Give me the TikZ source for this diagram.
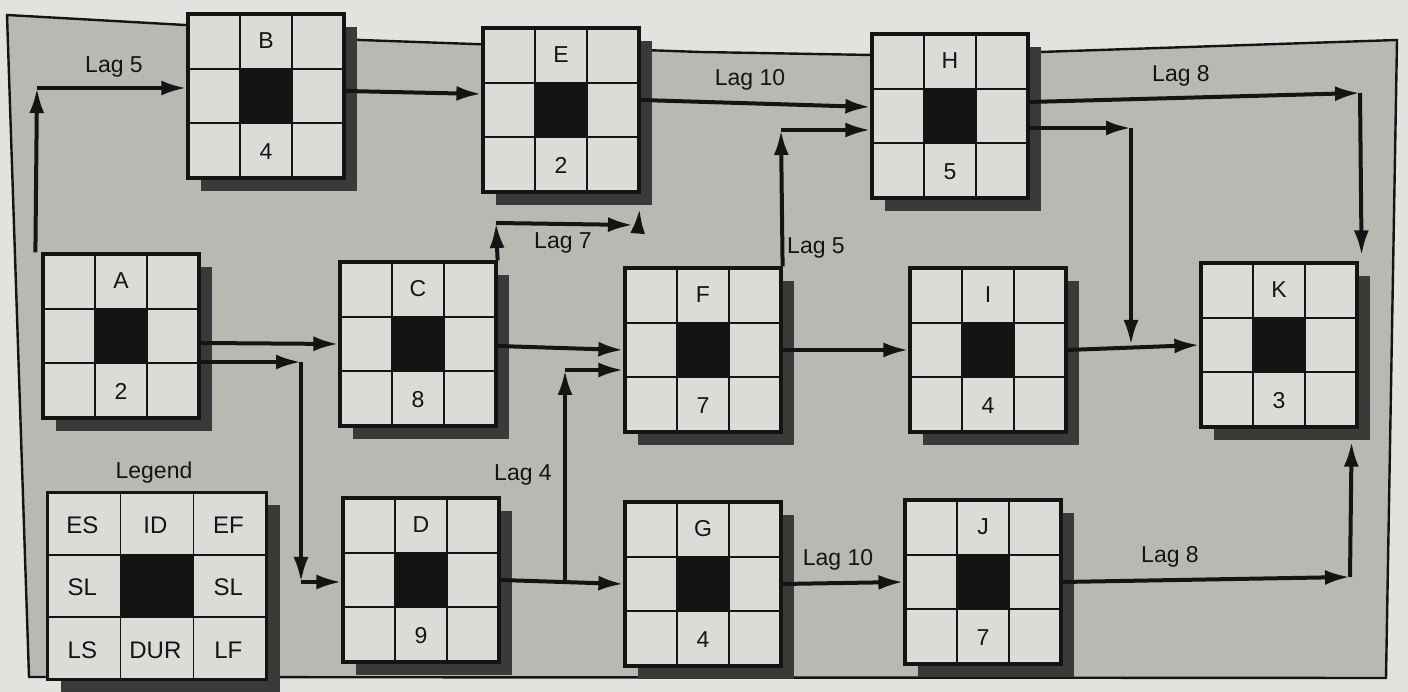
\documentclass[tikz,border=0pt]{standalone}
\usepackage{fontspec}
\setmainfont{Liberation Sans}
\usetikzlibrary{calc,shadows,arrows.meta}

\definecolor{pagewhite}{HTML}{E4E2DE}
\definecolor{framegray}{HTML}{BAB8B3}
\definecolor{cellgray}{HTML}{DDDBD7}
\definecolor{inkblack}{HTML}{141414}
\definecolor{shadowgray}{HTML}{3A3A3A}

\tikzset{
    actbox/.style={
        draw=inkblack, line width=3.2pt, fill=cellgray, inner sep=0pt,
        minimum width=156pt, minimum height=164pt,
        drop shadow={shadow xshift=13pt, shadow yshift=-13pt, fill=shadowgray, opacity=1},
        path picture={
            \fill[inkblack] ($(path picture bounding box.south west)!1/3!(path picture bounding box.north east)$)
                rectangle ($(path picture bounding box.south west)!2/3!(path picture bounding box.north east)$);
            \foreach \f in {1/3,2/3} {
                \draw[inkblack, line width=1.8pt]
                    ($(path picture bounding box.south west)!\f!(path picture bounding box.south east)$) --
                    ($(path picture bounding box.north west)!\f!(path picture bounding box.north east)$);
                \draw[inkblack, line width=1.8pt]
                    ($(path picture bounding box.south west)!\f!(path picture bounding box.north west)$) --
                    ($(path picture bounding box.south east)!\f!(path picture bounding box.north east)$);
            }
        }
    },
    link/.style={->, line width=4pt, draw=inkblack},
    legendtext/.style={font=\fontsize{24}{27}\selectfont}
}

\begin{document}
\begin{tikzpicture}[
            x=1pt, y=1pt,
            font=\fontsize{23}{26}\selectfont,
            text=inkblack,
            >={Latex[length=25pt,width=15pt]}
        ]

    % --- Page and frame ---
    \fill[pagewhite] (0,0) rectangle (1408,692);
    \useasboundingbox (0,0) rectangle (1408,692);
    \draw[line width=2.4pt, draw=inkblack, fill=framegray]
        (7,677) -- (185,667) -- (360,652) -- (700,640) -- (872,637) -- (1040,640)
        -- (1397,652) -- (1386,14) -- (29,15) -- cycle;

    % --- Activities (ID / duration) ---
    \foreach \n/\x/\y/\d in {A/121/356/2, B/266/596/4, C/418/348/8, D/421/112/9,
                             E/561/582/2, F/703/342/7, G/703/108/4, H/950/576/5,
                             I/988/342/4, J/983/110/7, K/1279/347/3} {
        \node[actbox] (\n) at (\x,\y) {};
        \node (\n-id) at ($(\n.north)!1/6!(\n.south)$) {\n};
        \node (\n-dur) at ($(\n.south)!1/6!(\n.north)$) {\d};
    }

    % --- Legend ---
    \node[actbox, minimum width=219pt, minimum height=187pt] (legend) at (157,106) {};
    \node (legendtitle) at (154,219) {Legend};
    \foreach \t/\cx/\cy [count=\i] in {ES/1/5, ID/3/5, EF/5/5, SL/1/3, SL/5/3, LS/1/1, DUR/3/1, LF/5/1}
        \node[legendtext] (leg\i) at ($(legend.south west)+(\cx*36.5,\cy*31.2)$) {\t};

    % --- A -> B, Lag 5 ---
    \coordinate (ab) at (37,604);
    \draw[link] ([xshift=-6pt]A.north west) -- (ab);
    \draw[link] (ab) -- (ab -| B.west);
    \node (lagAB) at (114,625) {Lag 5};

    % --- B -> E ---
    \draw[link] ([yshift=5pt]B.east) -- ([yshift=16pt]E.west);

    % --- E -> H, Lag 10 ---
    \draw[link] ([yshift=10pt]E.east) -- ([yshift=9pt]H.west);
    \node (lagEH) at (750,612) {Lag 10};

    % --- H -> K, Lag 8 ---
    \coordinate (hk1) at (1360,599);
    \draw[link] ([yshift=14pt]H.east) -- (hk1);
    \draw[link] (hk1) -- ([xshift=3pt,yshift=6pt]K.north east);
    \node (lagHK) at (1181,616) {Lag 8};

    % --- H -> K (down onto I -> K) ---
    \coordinate (hk2) at (1131,564);
    \draw[link] ([yshift=-12pt]H.east) -- (hk2);
    \draw[link] (hk2) -- (hk2 |- K.west);

    % --- A -> C, A -> D ---
    \draw[link] ([yshift=-7pt]A.east) -- (C.west);
    \coordinate (ad1) at (301,330);
    \coordinate (ad2) at (301,110);
    \draw[link] ([yshift=-26pt]A.east) -- (ad1);
    \draw[link] (ad1) -- (ad2);
    \draw[link] (ad2) -- (ad2 -| D.west);

    % --- C -> E, Lag 7 ---
    \coordinate (ce1) at (496,469);
    \coordinate (ce2) at (633,467);
    \coordinate (ce3) at (638,463);
    \draw[link] (C.north east) -- (ce1);
    \draw[link] (ce1) -- (ce2);
    \draw[link] (ce3) -- ([xshift=-1pt,yshift=-15pt]E.south east);
    \node (lagCE) at (563,449) {Lag 7};

    % --- C -> F, D -> G ---
    \draw[link] ([yshift=-2pt]C.east) -- (F.west);
    \draw[link] (D.east) -- (G.west);

    % --- D -> F, Lag 4 ---
    \coordinate (df) at (565,322);
    \draw[link] (D.east -| df) -- (df);
    \draw[link] (df) -- (df -| F.west);
    \node (lagDF) at (523,217) {Lag 4};

    % --- F -> H, Lag 5 ---
    \coordinate (fh) at (781,562);
    \draw[link] (F.north east) -- (fh);
    \draw[link] (fh) -- (fh -| H.west);
    \node (lagFH) at (816,444) {Lag 5};

    % --- F -> I -> K ---
    \draw[link] (F.east) -- (I.west);
    \draw[link] (I.east) -- (K.west);

    % --- G -> J, Lag 10 ---
    \draw[link] (G.east) -- (J.west);
    \node (lagGJ) at (838,132) {Lag 10};

    % --- J -> K, Lag 8 ---
    \coordinate (jk) at (1350,115);
    \draw[link] (J.east) -- (jk);
    \draw[link] (jk) -- ([xshift=-7pt,yshift=-13pt]K.south east);
    \node (lagJK) at (1170,135) {Lag 8};

\end{tikzpicture}
\end{document}
